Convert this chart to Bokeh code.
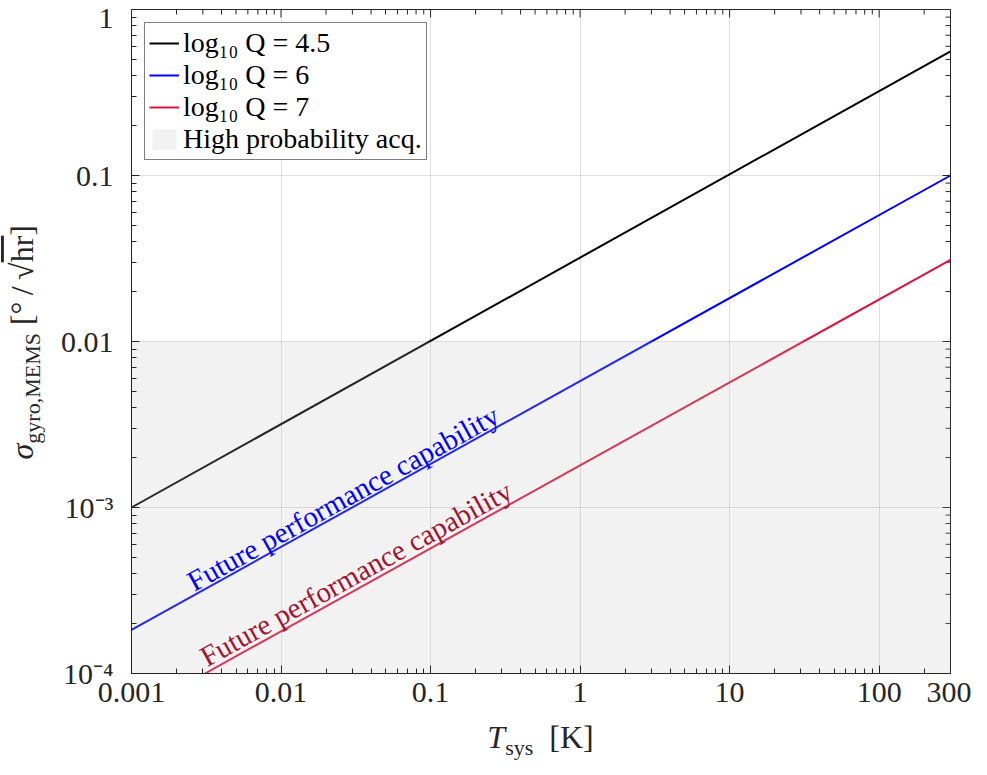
from bokeh.plotting import figure
from bokeh.models import FixedTicker, Label, Div
from bokeh.layouts import row, column
from bokeh.embed import file_html
from bokeh.resources import INLINE

# ---- data ----
T_line = [0.001, 300]            # K
sigma_q45 = [1.0e-3, 0.56]       # log10 Q = 4.5
sigma_q6 = [1.83e-4, 0.100]      # log10 Q = 6
T_q7 = [0.0031, 300]
sigma_q7 = [1.0e-4, 0.031]       # log10 Q = 7
region_T = [0.001, 300]
region_sigma = [1e-4, 0.01]      # high probability acquisition band

x_major = [0.001, 0.01, 0.1, 1, 10, 100, 300]
x_labels = ["0.001", "0.01", "0.1", "1", "10", "100", "300"]
y_major = [1e-4, 1e-3, 0.01, 0.1, 1]
y_labels = ["10⁻⁴", "10⁻³", "0.01", "0.1", "1"]
legend_labels = ["log₁₀ Q = 4.5", "log₁₀ Q = 6", "log₁₀ Q = 7", "High probability acq."]
annot_text = "Future performance capability"

x_minor = [m * 10.0 ** e for e in range(-3, 3) for m in range(2, 10) if m * 10.0 ** e < 300]
y_minor = [m * 10.0 ** e for e in range(-4, 0) for m in range(2, 10)]

FONT = "Liberation Serif"
AX = "#262626"
x_lo, x_hi = region_T
y_lo, y_hi = 1e-4, 1

YL_W = 48          # width of the y-title strip
FIG_W, FIG_H = 923, 722
XL_H = 37

p = figure(width=FIG_W, height=FIG_H, x_axis_type="log", y_axis_type="log",
           x_range=(x_lo, x_hi), y_range=(y_lo, y_hi),
           output_backend="svg", toolbar_location=None,
           min_border_left=83, min_border_right=21, min_border_top=9, min_border_bottom=49)
p.outline_line_color = AX
p.background_fill_color = "white"


def style(ax, ticker, labels, standoff):
    ax.ticker = ticker
    ax.axis_line_color = AX
    ax.major_tick_line_color = AX
    ax.minor_tick_line_color = AX
    ax.major_tick_in = 8
    ax.major_tick_out = 0
    ax.minor_tick_in = 5
    ax.minor_tick_out = 0
    ax.major_label_text_font = FONT
    ax.major_label_text_color = AX
    ax.major_label_text_font_size = "30px"
    ax.major_label_standoff = standoff
    ax.major_label_overrides = labels


style(p.xaxis[0], FixedTicker(ticks=x_major, minor_ticks=x_minor),
      {v: s for v, s in zip(x_major, x_labels)}, 9)
style(p.yaxis[0], FixedTicker(ticks=y_major, minor_ticks=y_minor),
      {v: s for v, s in zip(y_major, y_labels)}, 18)

p.xgrid.ticker = FixedTicker(ticks=x_major)
p.ygrid.ticker = FixedTicker(ticks=y_major)
for g in (p.xgrid, p.ygrid):
    g.grid_line_color = AX
    g.grid_line_alpha = 0.15

# mirrored ticks on the top and right edges (dash markers centred on the edge, clipped by the frame)
p.scatter(x_major, [y_hi] * len(x_major), marker="dash", size=16, angle=90, angle_units="deg",
          line_color=AX, line_width=1)
p.scatter(x_minor, [y_hi] * len(x_minor), marker="dash", size=10, angle=90, angle_units="deg",
          line_color=AX, line_width=1)
p.scatter([x_hi] * len(y_major), y_major, marker="dash", size=16, line_color=AX, line_width=1)
p.scatter([x_hi] * len(y_minor), y_minor, marker="dash", size=10, line_color=AX, line_width=1)

p.line(T_line, sigma_q45, line_color="black", line_width=2, legend_label=legend_labels[0])
p.line(T_line, sigma_q6, line_color="#0000ff", line_width=2, legend_label=legend_labels[1])
p.line(T_q7, sigma_q7, line_color="#dc143c", line_width=2, legend_label=legend_labels[2])
p.quad(left=[region_T[0]], right=[region_T[1]], bottom=[region_sigma[0]], top=[region_sigma[1]],
       fill_color="#bebebe", fill_alpha=0.2, line_color=None, legend_label=legend_labels[3])

p.add_layout(Label(x=0.00244, y=3.5e-4, text=annot_text, angle=29, angle_units="deg",
                   text_color="#0000ff", text_font=FONT, text_font_size="29px",
                   text_baseline="alphabetic", text_align="left"))
p.add_layout(Label(x=0.00298, y=1.23e-4, text=annot_text, angle=29, angle_units="deg",
                   text_color="#a2142f", text_font=FONT, text_font_size="29px",
                   text_baseline="alphabetic", text_align="left"))

lg = p.legend[0]
lg.location = "top_left"
lg.margin = 13
lg.padding = 4
lg.spacing = 0
lg.label_standoff = 4
lg.glyph_width = 30
lg.glyph_height = 26
lg.label_height = 30
lg.label_text_font = FONT
lg.label_text_font_size = "28px"
lg.label_text_color = "black"
lg.border_line_color = "black"
lg.border_line_width = 1
lg.background_fill_alpha = 1

# axis titles as HTML (subscripts, italics, sqrt overbar)
ylabel_html = (
    f'<div style="width:{YL_W}px;height:{FIG_H}px;box-sizing:border-box;padding-bottom:38px;'
    'padding-left:6px;display:flex;align-items:center;justify-content:center;">'
    '<div style="writing-mode:vertical-rl;text-orientation:sideways;transform:rotate(180deg);'
    f"white-space:nowrap;font-family:'{FONT}';font-size:32px;line-height:32px;color:{AX};\">"
    '<i>σ</i><span style="font-size:22px;vertical-align:-7px;">gyro,MEMS</span>'
    '&nbsp;[°&thinsp;/&thinsp;√<span style="text-decoration:overline;">hr</span>]</div></div>'
)
xlabel_html = (
    f'<div style="width:{FIG_W}px;height:{XL_H}px;box-sizing:border-box;padding-left:62px;'
    f"text-align:center;font-family:'{FONT}';font-size:32px;line-height:30px;color:{AX};"
    'white-space:nowrap;">'
    '<i>T</i><span style="font-size:22px;vertical-align:-7px;">sys</span>&nbsp;&nbsp;[K]</div>'
)

ydiv = Div(text=ylabel_html, width=YL_W, height=FIG_H, margin=0)
xdiv = Div(text=xlabel_html, width=FIG_W, height=XL_H, margin=0)

layout = row(ydiv, column(p, xdiv, spacing=0), spacing=0)

open("out.html", "w").write(file_html(layout, INLINE))
